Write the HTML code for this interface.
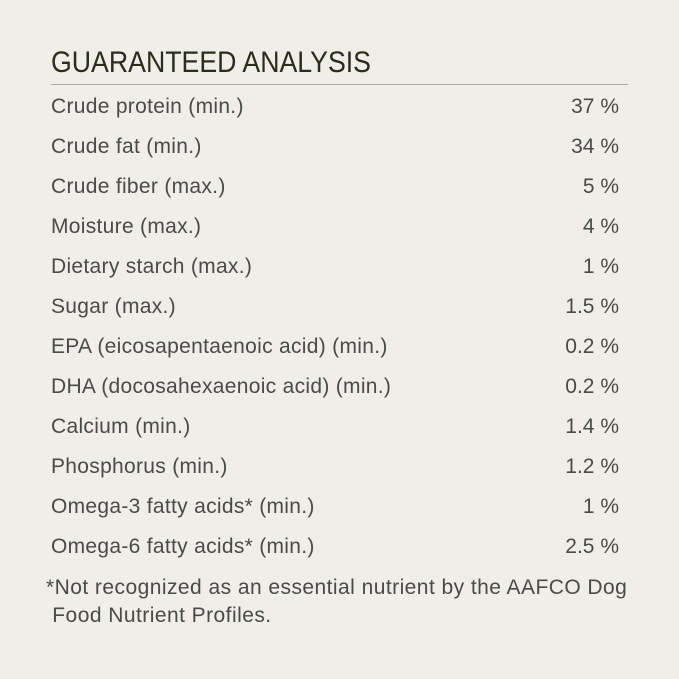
<!DOCTYPE html>
<html><head><style>
body{margin:0;width:679px;height:679px;background:#efeee9;font-family:"Liberation Sans",sans-serif;color:#4a4a47;position:relative;overflow:hidden}
.t{position:absolute;left:51px;top:46px;font-size:30px;color:#2b2d1c;white-space:nowrap;transform-origin:0 0;transform:scaleX(0.89)}
.hr{position:absolute;left:51px;width:577px;top:84px;height:1px;background:#a9a9a4}
.r{position:absolute;left:51px;width:568px;height:28px;font-size:21px;line-height:28px;letter-spacing:0.3px}
.r span{float:right;letter-spacing:0}
.f{position:absolute;left:46px;top:574px;font-size:21px;line-height:28px;width:640px;letter-spacing:0.45px;white-space:nowrap}
</style></head><body>
<div class="t">GUARANTEED ANALYSIS</div>
<div class="hr"></div>
<div class="r" style="top:93px">Crude protein (min.)<span>37 %</span></div>
<div class="r" style="top:133px">Crude fat (min.)<span>34 %</span></div>
<div class="r" style="top:173px">Crude fiber (max.)<span>5 %</span></div>
<div class="r" style="top:213px">Moisture (max.)<span>4 %</span></div>
<div class="r" style="top:253px">Dietary starch (max.)<span>1 %</span></div>
<div class="r" style="top:293px">Sugar (max.)<span>1.5 %</span></div>
<div class="r" style="top:333px">EPA (eicosapentaenoic acid) (min.)<span>0.2 %</span></div>
<div class="r" style="top:373px">DHA (docosahexaenoic acid) (min.)<span>0.2 %</span></div>
<div class="r" style="top:413px">Calcium (min.)<span>1.4 %</span></div>
<div class="r" style="top:453px">Phosphorus (min.)<span>1.2 %</span></div>
<div class="r" style="top:493px">Omega-3 fatty acids* (min.)<span>1 %</span></div>
<div class="r" style="top:533px">Omega-6 fatty acids* (min.)<span>2.5 %</span></div>
<div class="f">*Not recognized as an essential nutrient by the AAFCO Dog<br>&nbsp;Food Nutrient Profiles.</div>
</body></html>
